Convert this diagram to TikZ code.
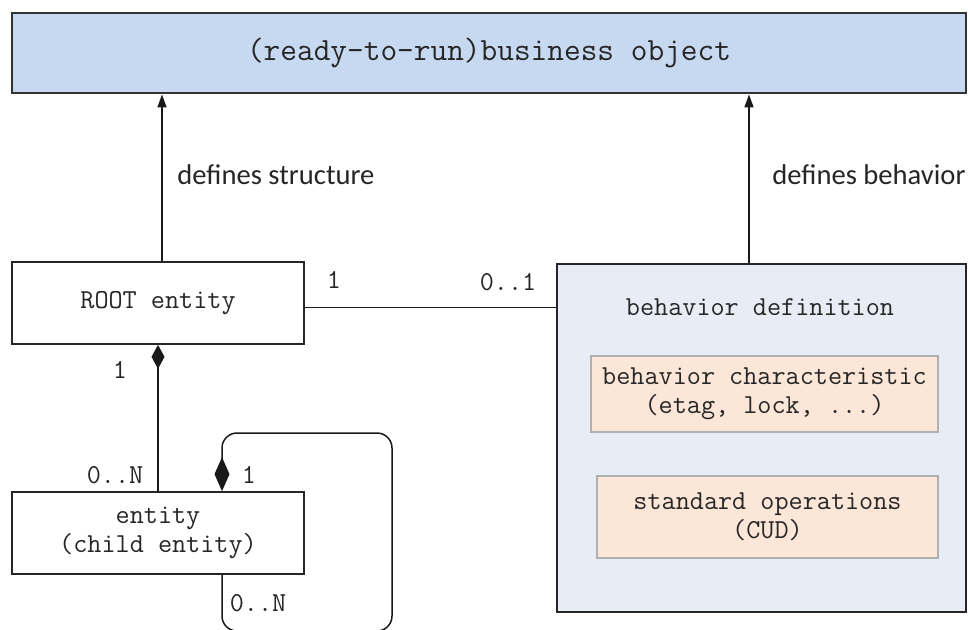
\documentclass[tikz,border=0pt]{standalone}
\usepackage{fontspec}
\setsansfont{Carlito}
\usepackage{xcolor}
\usetikzlibrary{arrows.meta, calc}
\definecolor{BOBlue}{RGB}{198,217,240}
\definecolor{BDGray}{RGB}{232,237,245}
\definecolor{BDPeach}{RGB}{251,230,216}
\definecolor{BDEdge}{RGB}{176,176,176}

\begin{document}
\begin{tikzpicture}[x=0.5pt, y=-0.5pt,
      ent/.style={rectangle, draw=black!85, line width=0.85pt, fill=white,
                  minimum width=146pt, minimum height=41pt, inner sep=0pt,
                  font=\fontsize{13.7}{14.5}\selectfont\ttfamily, align=center, text=black!85},
      part/.style={rectangle, draw=BDEdge, line width=0.6pt, fill=BDPeach,
                   minimum height=38pt, inner sep=0pt,
                   font=\fontsize{13.7}{14.5}\selectfont\ttfamily, align=center, text=black!85},
      mult/.style={font=\fontsize{13.7}{14.5}\selectfont\ttfamily, text=black!85, inner sep=0pt},
      lbl/.style={font=\fontsize{14.3}{17}\selectfont\sffamily, text=black!85, inner sep=0pt, anchor=west},
      link/.style={line width=0.75pt, draw=black!90},
      up/.style={link, -{Triangle[length=6.5pt, width=4.5pt]}}
    ]
    \useasboundingbox (0,0) rectangle (968,629);
    \clip (0,0) rectangle (968,629);

    % Business object on top
    \node[rectangle, draw=black!80, line width=1.4pt, fill=BOBlue,
          minimum width=477pt, minimum height=40pt, inner sep=0pt,
          font=\fontsize{16.2}{17}\selectfont\ttfamily, text=black!85]
          (bo) at (489,53) {(ready-to-run)business object};

    % Entities
    \node[ent] (root)   at (158,303) {ROOT entity};
    \node[ent] (entity) at (158,533) {entity\\(child entity)};

    % Behavior definition with its parts
    \node[rectangle, draw=black!85, line width=0.85pt, fill=BDGray,
          minimum width=204.5pt, minimum height=174pt, inner sep=0pt]
          (bdef) at (761.5,438) {};
    \node[mult] (bdtitle) at (760,307) {behavior definition};
    \node[part, minimum width=173.5pt] (bchar) at (764.5,394)
          {behavior characteristic\\(etag, lock, ...)};
    \node[part, minimum width=170.5pt, minimum height=41pt] (stdops) at (767.5,517)
          {standard operations\\(CUD)};

    % Structure and behavior
    \draw[up] ([xshift=2pt]root.north) -- ([xshift=2pt]root.north |- bo.south);
    \draw[up] ([xshift=-6.25pt]bdef.north) -- ([xshift=-6.25pt]bdef.north |- bo.south);
    \node[lbl] (lstruct) at (177,175) {defines structure};
    \node[lbl] (lbehav)  at (772,175) {defines behavior};

    % Root to behavior definition
    \draw[link] ([yshift=-2.25pt]root.east) -- ([yshift=-2.25pt]root.east -| bdef.west);
    \node[mult] (m1) at (334,280) {1};
    \node[mult] (m2) at (508,282) {0..1};

    % Composition root -> child
    \draw[link, -{Diamond[length=12pt, width=6.5pt]}] (entity.north) -- (root.south);
    \node[mult] (m3) at (120,370) {1};
    \node[mult] (m4) at (115,475) {0..N};

    % Child entity composed of itself
    \coordinate (loopr) at (392,433);
    \coordinate (loopb) at (222,631);
    \draw[link, rounded corners=7.5pt, {Diamond[length=17pt, width=7.5pt]}-]
          ([xshift=32pt]entity.north) |- (loopr) |- (loopb) -- ([xshift=32pt]entity.south);
    \node[mult] (m5) at (249,475) {1};
    \node[mult] (m6) at (258,603) {0..N};
  \end{tikzpicture}
\end{document}
